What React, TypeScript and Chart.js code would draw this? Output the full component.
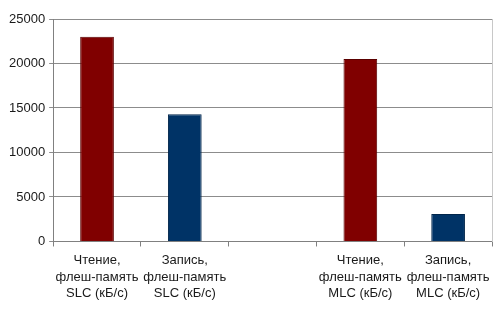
import React, { useEffect, useRef } from "react";
import { Chart, registerables } from "chart.js";

Chart.register(...registerables);

const categories: (string | string[])[] = [
  ["Чтение,", "флеш-память", "SLC (кБ/с)"],
  ["Запись,", "флеш-память", "SLC (кБ/с)"],
  "",
  ["Чтение,", "флеш-память", "MLC (кБ/с)"],
  ["Запись,", "флеш-память", "MLC (кБ/с)"],
];
const speedValues: (number | null)[] = [23000, 14300, null, 20500, 3100];
const barColors = ["#800000", "#003366", "#800000", "#800000", "#003366"];
const barBorders = ["#5a0000", "#00254a", "#5a0000", "#5a0000", "#00254a"];
const yTicks = [0, 5000, 10000, 15000, 20000, 25000];

export default function App() {
  const ref = useRef<HTMLCanvasElement | null>(null);
  useEffect(() => {
    document.body.style.margin = "0";
    const ctx = ref.current!;
    const font = { family: "'Liberation Sans', Arial, sans-serif", size: 13, lineHeight: 1.27 };
    const chart = new Chart(ctx, {
      type: "bar",
      data: {
        labels: categories,
        datasets: [
          {
            data: speedValues,
            backgroundColor: barColors,
            borderColor: barBorders,
            borderWidth: 1,
            barPercentage: 0.48,
            categoryPercentage: 0.8,
          },
        ],
      },
      options: {
        animation: false,
        responsive: false,
        maintainAspectRatio: false,
        layout: { padding: { left: 5, right: 8, top: 19, bottom: 3 } },
        plugins: { legend: { display: false }, tooltip: { enabled: false } },
        scales: {
          x: {
            grid: {
              offset: true,
              drawOnChartArea: false,
              drawTicks: true,
              tickLength: 5,
              color: "#808080",
            },
            border: { display: true, color: "#808080" },
            ticks: { font, color: "#1a1a1a", padding: 6, maxRotation: 0, autoSkip: false },
          },
          y: {
            min: yTicks[0],
            max: yTicks[yTicks.length - 1],
            afterBuildTicks: (axis: any) => {
              axis.ticks = yTicks.map((v) => ({ value: v }));
            },
            grid: { color: "#8c8c8c", tickLength: 4, drawTicks: true },
            border: { display: true, color: "#808080" },
            ticks: {
              font,
              color: "#1a1a1a",
              padding: 4,
              callback: (v: any) => String(v),
            },
          },
          yRight: {
            position: "right",
            display: true,
            min: 0,
            max: 25000,
            grid: { drawOnChartArea: false, drawTicks: false },
            border: { display: true, color: "#c8c8c8" },
            ticks: { display: false },
          },
        },
      } as any,
    });
    return () => chart.destroy();
  }, []);
  return (
    <div style={{ width: 500, height: 311, background: "#fff" }}>
      <canvas ref={ref} width={500} height={311} style={{ display: "block" }} />
    </div>
  );
}
